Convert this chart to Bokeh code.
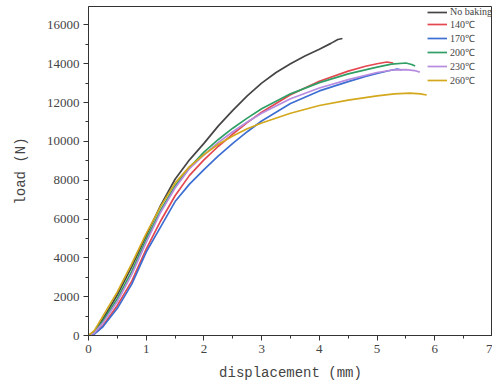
from bokeh.plotting import figure
from bokeh.models import Range1d, Legend, LegendItem, FixedTicker
from bokeh.embed import file_html
from bokeh.resources import INLINE

series_names = ["No baking", "140\u2103", "170\u2103", "200\u2103", "230\u2103", "260\u2103"]
series_colors = ["#454545", "#e4474f", "#3d6fd3", "#2f9f66", "#b68be0", "#d4a81c"]

x_nobake = [0, 0.1, 0.25, 0.5, 0.75, 1.0, 1.25, 1.5, 1.75, 2.0, 2.25, 2.5, 2.75, 3.0, 3.25, 3.5, 3.75, 4.0, 4.2, 4.32, 4.4]
y_nobake = [0, 200, 850, 2100, 3550, 5150, 6700, 8050, 9050, 9900, 10800, 11600, 12350, 13000, 13550, 14000, 14400, 14750, 15050, 15250, 15300]

x_140 = [0, 0.1, 0.25, 0.5, 0.75, 1.0, 1.25, 1.5, 1.75, 2.0, 2.25, 2.5, 2.75, 3.0, 3.5, 4.0, 4.5, 4.8, 5.0, 5.17, 5.28]
y_140 = [0, 80, 500, 1550, 2800, 4450, 5900, 7200, 8250, 9050, 9750, 10380, 10970, 11500, 12400, 13100, 13620, 13870, 14000, 14090, 14040]

x_170 = [0, 0.1, 0.25, 0.5, 0.75, 1.0, 1.25, 1.5, 1.75, 2.0, 2.25, 2.5, 2.75, 3.0, 3.5, 4.0, 4.5, 4.8, 5.0, 5.2, 5.35, 5.43]
y_170 = [0, 70, 450, 1400, 2650, 4300, 5600, 6900, 7800, 8550, 9250, 9900, 10500, 11050, 11950, 12600, 13080, 13350, 13500, 13640, 13720, 13680]

x_200 = [0, 0.1, 0.25, 0.5, 0.75, 1.0, 1.25, 1.5, 1.75, 2.0, 2.25, 2.5, 2.75, 3.0, 3.5, 4.0, 4.5, 5.0, 5.25, 5.5, 5.6, 5.66]
y_200 = [0, 150, 750, 1900, 3300, 4950, 6450, 7700, 8650, 9450, 10100, 10680, 11200, 11680, 12450, 13030, 13480, 13830, 13980, 14040, 13960, 13880]

x_230 = [0, 0.1, 0.25, 0.5, 0.75, 1.0, 1.25, 1.5, 1.75, 2.0, 2.25, 2.5, 2.75, 3.0, 3.5, 4.0, 4.5, 5.0, 5.3, 5.5, 5.65, 5.74]
y_230 = [0, 120, 650, 1750, 3150, 4800, 6350, 7600, 8600, 9300, 9950, 10500, 11000, 11450, 12200, 12750, 13180, 13550, 13690, 13700, 13650, 13570]

x_260 = [0, 0.1, 0.25, 0.5, 0.75, 1.0, 1.25, 1.5, 1.75, 2.0, 2.25, 2.5, 2.75, 3.0, 3.5, 4.0, 4.5, 5.0, 5.3, 5.57, 5.75, 5.86]
y_260 = [0, 250, 1000, 2250, 3700, 5250, 6650, 7850, 8700, 9320, 9850, 10280, 10650, 10950, 11450, 11850, 12130, 12350, 12450, 12490, 12450, 12390]

x_ticks = [0, 1, 2, 3, 4, 5, 6, 7]
y_ticks = [0, 2000, 4000, 6000, 8000, 10000, 12000, 14000, 16000]

all_x = [x_nobake, x_140, x_170, x_200, x_230, x_260]
all_y = [y_nobake, y_140, y_170, y_200, y_230, y_260]

p = figure(width=492, height=386, output_backend="svg", toolbar_location=None,
           x_range=Range1d(0, 7), y_range=Range1d(0, 16950),
           min_border_left=88, min_border_right=0, min_border_top=6, min_border_bottom=51)

p.xgrid.visible = False
p.ygrid.visible = False
p.outline_line_color = "#333333"
p.outline_line_width = 1
p.background_fill_color = "white"
p.border_fill_color = "white"

items = []
for name, col, xs, ys in zip(series_names, series_colors, all_x, all_y):
    r = p.line(xs, ys, line_color=col, line_width=1.7, line_join="round")
    items.append(LegendItem(label=name, renderers=[r]))

legend = Legend(items=items, location="top_right")
legend.label_text_font = "Liberation Serif"
legend.label_text_font_size = "10px"
legend.label_text_color = "#444444"
legend.label_text_line_height = 0.9
legend.glyph_width = 20
legend.glyph_height = 8
legend.label_height = 8
legend.label_standoff = 3
legend.spacing = 0
legend.padding = 0
legend.margin = 0
legend.border_line_color = None
legend.background_fill_alpha = 0
p.add_layout(legend)

for ax in (p.xaxis[0], p.yaxis[0]):
    ax.axis_line_color = "#333333"
    ax.major_tick_line_color = "#333333"
    ax.minor_tick_line_color = "#333333"
    ax.major_tick_out = 5
    ax.major_tick_in = 0
    ax.minor_tick_out = 3
    ax.minor_tick_in = 0
    ax.major_label_text_font = "Liberation Serif"
    ax.major_label_text_font_size = "13px"
    ax.major_label_text_color = "#444444"
    ax.axis_label_text_font = "Liberation Mono"
    ax.axis_label_text_font_size = "14px"
    ax.axis_label_text_font_style = "normal"
    ax.axis_label_text_color = "#444444"

p.xaxis[0].ticker = FixedTicker(ticks=x_ticks, minor_ticks=[v + 0.5 for v in x_ticks[:-1]])
p.yaxis[0].ticker = FixedTicker(ticks=y_ticks, minor_ticks=[v + 1000 for v in y_ticks])
p.xaxis[0].axis_label = "displacement (mm)"
p.yaxis[0].axis_label = "load (N)"
p.xaxis[0].axis_label_standoff = 9
p.yaxis[0].axis_label_standoff = 15
p.xaxis[0].major_label_standoff = 4
p.yaxis[0].major_label_standoff = 4

open("out.html", "w").write(file_html(p, INLINE))
